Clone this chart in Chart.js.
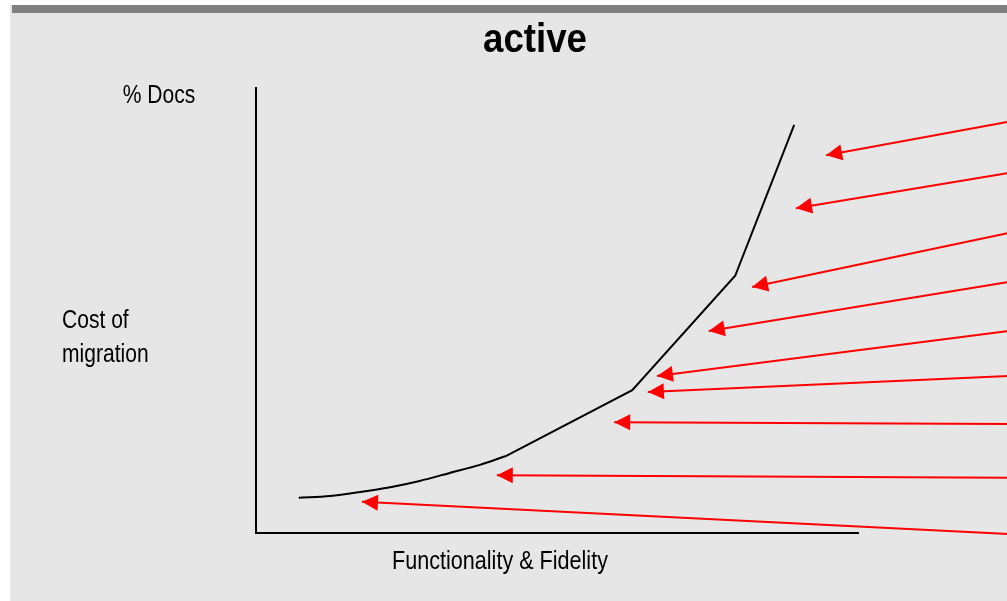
<!DOCTYPE html>
<html>
<head>
<meta charset="utf-8">
<script src="https://cdn.jsdelivr.net/npm/chart.js@4"></script>
<style>
  html, body { margin: 0; padding: 0; background: #fff; overflow: hidden; }
  #slide { position: absolute; left: 10px; top: 5px; width: 1050px; height: 596px; background: #e6e6e6; }
  #bar { position: absolute; left: 2px; top: 0; right: 0; height: 8px; background: #808080; }
  #wrap { position: absolute; left: 0; top: 0; width: 1050px; height: 596px; }
</style>
</head>
<body>
<div id="slide">
  <div id="bar"></div>
  <div id="wrap"><canvas id="chart1"></canvas></div>
</div>
<script>
// curva de coste (Functionality & Fidelity vs Cost of migration)
// tramo curvo inicial y tramo recto despues
const curveX = [7.1, 12.3, 17.3, 22.3, 27.2, 32.2, 37.2, 41.5];
const curveY = [7.9, 8.3, 9.2, 10.3, 11.7, 13.5, 15.3, 17.3];
const lineX = [41.5, 62.5, 79.6, 89.4];
const lineY = [17.3, 32.1, 57.8, 91.7];

// flechas rojas: salen del borde derecho y apuntan a la curva
const arrowFromX = [125, 125, 125, 125, 125, 125, 125, 125, 125];
const arrowFromY = [92.4, 80.9, 67.4, 56.4, 45.4, 35.3, 24.5, 12.4, -0.2];
const arrowToX = [94.7, 89.7, 82.4, 75.2, 66.6, 65.1, 59.5, 40.0, 17.6];
const arrowToY = [84.9, 73.0, 55.3, 45.4, 35.3, 31.7, 24.9, 13.0, 7.0];

const titleText = 'active';
const yLabelTop = '% Docs';
const yLabelLines = ['Cost of', 'migration'];
const xLabel = 'Functionality & Fidelity';

const fontFamily = "'Liberation Sans', Arial, Helvetica, sans-serif";

const datasets = [{
    label: 'curve',
    data: curveX.map((x, i) => ({ x: x, y: curveY[i] })),
    borderColor: '#000',
    borderWidth: 2,
    pointRadius: 0,
    cubicInterpolationMode: 'monotone',
    clip: false
}, {
    label: 'line',
    data: lineX.map((x, i) => ({ x: x, y: lineY[i] })),
    borderColor: '#000',
    borderWidth: 2,
    pointRadius: 0,
    tension: 0,
    clip: false
}];
arrowToX.forEach((x, i) => {
    datasets.push({
        label: 'arrow' + i,
        arrow: true,
        data: [{ x: arrowFromX[i], y: arrowFromY[i] }, { x: x, y: arrowToY[i] }],
        borderColor: '#ff0000',
        borderWidth: 2,
        pointRadius: 0,
        tension: 0,
        clip: false
    });
});

// texto estrecho (tipo Helvetica Narrow)
function narrowText(ctx, text, x, y, sx, align) {
    ctx.save();
    ctx.translate(x, y);
    ctx.scale(sx, 1);
    ctx.textAlign = align;
    ctx.fillText(text, 0, 0);
    ctx.restore();
}

// puntas de flecha y textos del diagrama
const extras = {
    id: 'extras',
    afterDatasetsDraw(chart) {
        const ctx = chart.ctx;
        ctx.save();
        chart.data.datasets.forEach((ds, i) => {
            if (!ds.arrow) return;
            const pts = chart.getDatasetMeta(i).data;
            const a = pts[0], b = pts[1];
            const ang = Math.atan2(b.y - a.y, b.x - a.x);
            const len = 16, half = 8;
            const bx = b.x - Math.cos(ang) * len, by = b.y - Math.sin(ang) * len;
            ctx.beginPath();
            ctx.moveTo(b.x, b.y);
            ctx.lineTo(bx + Math.sin(ang) * half, by - Math.cos(ang) * half);
            ctx.lineTo(bx - Math.sin(ang) * half, by + Math.cos(ang) * half);
            ctx.closePath();
            ctx.fillStyle = '#ff0000';
            ctx.fill();
        });
        ctx.fillStyle = '#000';
        ctx.textBaseline = 'alphabetic';
        ctx.font = 'bold 40px ' + fontFamily;
        narrowText(ctx, titleText, 525, 47, 0.917, 'center');
        ctx.font = '26px ' + fontFamily;
        narrowText(ctx, yLabelTop, 149, 97.5, 0.81, 'center');
        narrowText(ctx, xLabel, 490, 564, 0.83, 'center');
        narrowText(ctx, yLabelLines[0], 52, 323, 0.81, 'left');
        narrowText(ctx, yLabelLines[1], 52, 357, 0.81, 'left');
        ctx.restore();
    }
};

const chart1 = new Chart(document.getElementById('chart1').getContext('2d'), {
    type: 'line',
    data: { datasets: datasets },
    options: {
        responsive: true,
        maintainAspectRatio: false,
        animation: false,
        layout: { padding: { top: 83, left: 246, right: 202, bottom: 68 } },
        plugins: {
            legend: { display: false },
            tooltip: { enabled: false },
            title: { display: false }
        },
        scales: {
            x: {
                type: 'linear', min: 0, max: 100,
                ticks: { display: false },
                grid: { display: false, drawTicks: false },
                border: { display: true, color: '#000', width: 2 }
            },
            y: {
                type: 'linear', min: 0, max: 100,
                ticks: { display: false },
                grid: { display: false, drawTicks: false },
                border: { display: true, color: '#000', width: 2 }
            }
        }
    },
    plugins: [extras]
});
</script>
</body>
</html>
